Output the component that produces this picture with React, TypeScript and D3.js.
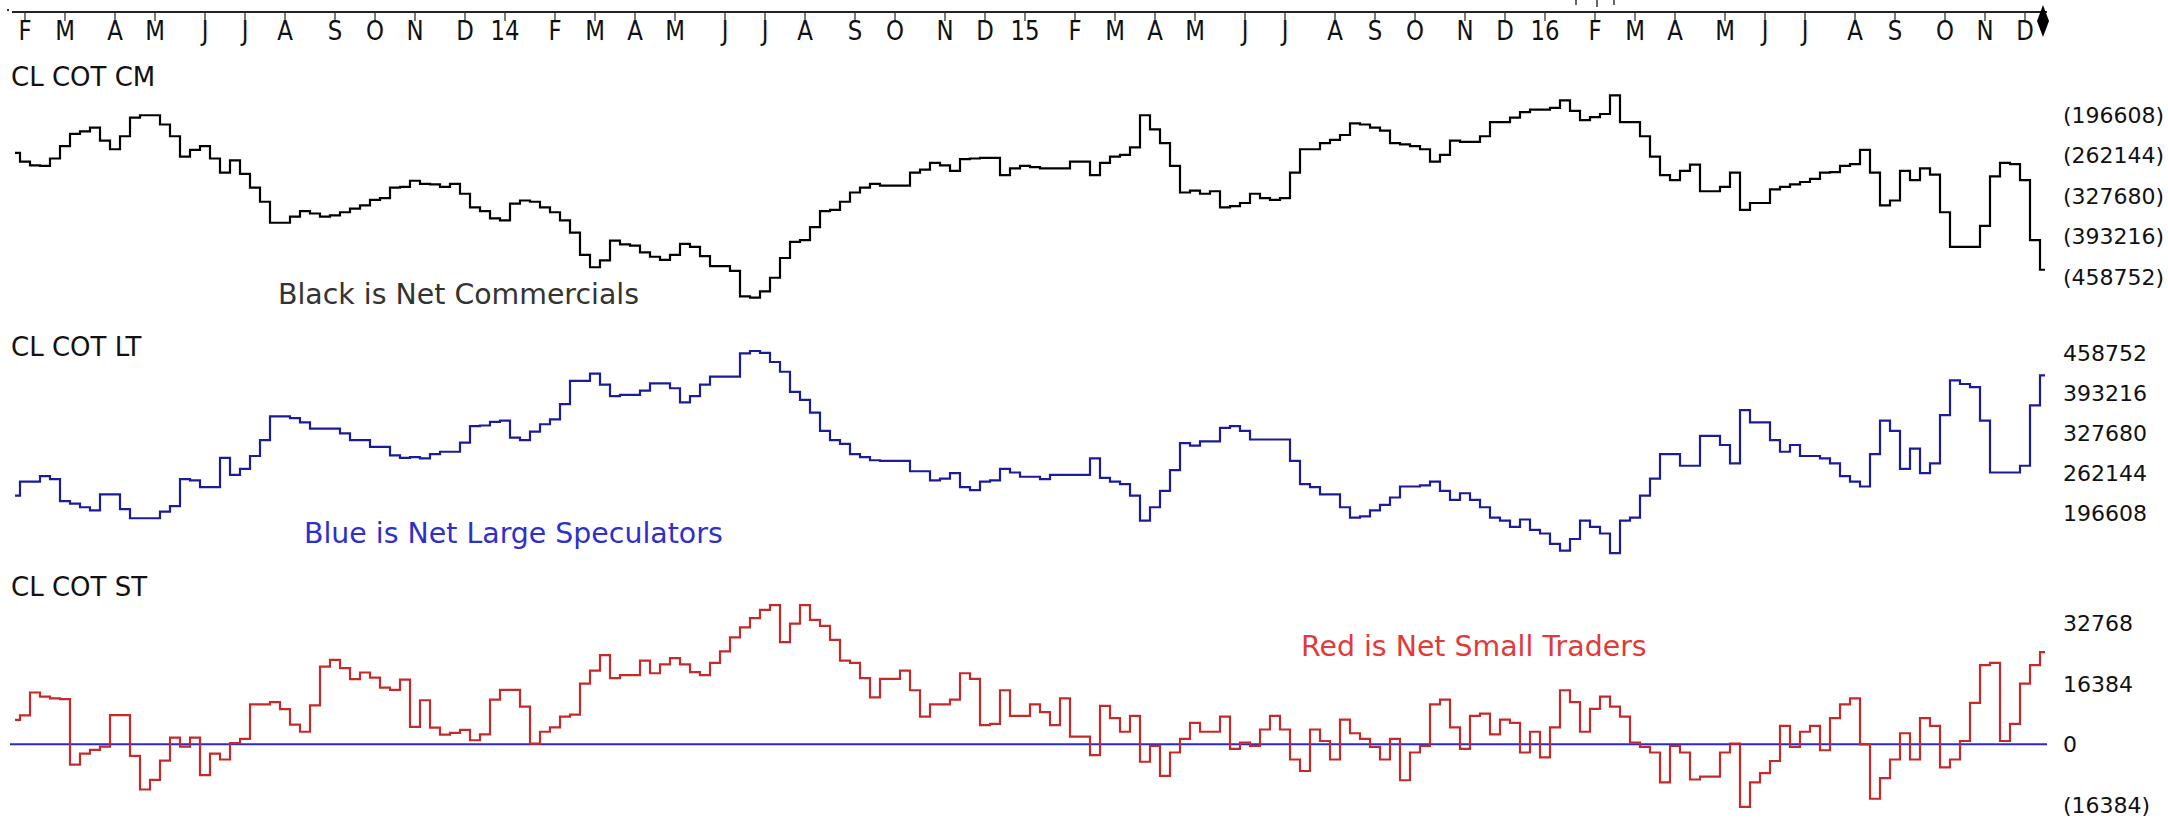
import React from "react";
import * as d3 from "d3";

const W = 2168;
const H = 819;

// weekly COT readings (thousands of contracts), first week = Fri 25 Jan 2013
const FIRST_WEEK = new Date(2013, 0, 25);

const commercialsK = [
  -258, -272, -278, -279, -267, -247, -227, -223, -217, -238, -252, -231, -201, -197, -197, -212, -231, -264, -253, -247,
  -267, -290, -270, -292, -314, -337, -371, -371, -361, -352, -356, -361, -359, -354, -348, -343, -334, -331, -314, -313,
  -303, -308, -309, -313, -308, -324, -346, -352, -364, -367, -340,
  -335, -337, -346, -354, -367, -387, -423, -443, -432, -400, -406, -408, -419, -426, -431, -423, -405, -410, -425, -441,
  -441, -449, -490, -492, -482, -460, -428, -402, -399, -378, -352, -350, -337, -322, -314, -308, -311, -311, -311, -290,
  -285, -274, -278, -287, -268, -267, -266, -266, -294, -283, -279,
  -281, -283, -283, -283, -272, -272, -294, -274, -264, -261, -249, -197, -220, -242, -279, -322, -319, -324, -320, -346,
  -344, -339, -324, -331, -334, -331, -290, -252, -252, -242, -237, -229, -210, -212, -217, -222, -242, -244, -247, -252,
  -272, -261, -238, -240, -240, -231, -208, -208, -201, -192, -188,
  -188, -185, -173, -190, -205, -200, -195, -165, -208, -208, -231, -264, -294, -302, -287, -277, -320, -320, -313, -290,
  -350, -339, -339, -317, -313, -309, -305, -300, -290, -289, -279, -276, -253, -290, -343, -335, -287, -302, -283, -293,
  -354, -410, -410, -410, -376, -296, -274, -276, -302, -399, -447,
];

const largeSpecsK = [
  225, 248, 248, 257, 252, 216, 212, 206, 201, 227, 227, 203, 188, 188, 188, 199, 208, 252, 250, 239,
  239, 287, 259, 269, 290, 316, 355, 355, 352, 345, 335, 335, 335, 327, 316, 316, 305, 305, 291, 287,
  288, 286, 293, 297, 297, 312, 339, 340, 346, 348, 320,
  316, 330, 342, 350, 375, 413, 413, 425, 407, 388, 390, 390, 397, 409, 409, 401, 378, 388, 407, 420,
  420, 420, 458, 462, 459, 444, 428, 395, 382, 361, 331, 316, 310, 293, 288, 283, 282, 282, 282, 265,
  265, 250, 253, 262, 239, 234, 248, 250, 269, 263, 256,
  256, 252, 259, 259, 259, 259, 286, 254, 248, 244, 225, 184, 206, 233, 267, 311, 307, 314, 314, 336,
  339, 331, 317, 317, 317, 317, 282, 244, 239, 227, 227, 206, 189, 191, 201, 210, 222, 240, 240, 242,
  248, 233, 218, 229, 218, 206, 189, 184, 174, 186, 169,
  163, 146, 135, 154, 184, 174, 163, 131, 184, 189, 225, 253, 293, 293, 274, 274, 323, 323, 308, 278,
  365, 345, 345, 316, 297, 308, 290, 290, 286, 278, 257, 248, 240, 293, 348, 331, 269, 302, 262, 278,
  357, 414, 408, 403, 348, 263, 263, 263, 274, 373, 422,
];

const smallTradersK = [
  6.6, 7.8, 14.0, 12.9, 12.4, 12.2, -5.5, -2.5, -1.5, -0.6, 7.9, 7.9, -3.1, -12.2, -9.6, -4.4, 1.8, -0.6, 1.8, -8.3,
  -2.5, -4.1, 0.3, 1.5, 10.8, 10.8, 11.4, 9.5, 5.3, 3.4, 10.5, 21.0, 22.8, 20.6, 17.6, 19.4, 18.0, 15.3, 14.7, 17.5,
  4.7, 11.9, 4.5, 2.6, 3.1, 3.9, 1.1, 2.7, 12.1, 14.7, 14.7,
  10.2, 0.2, 3.4, 4.6, 7.5, 8.0, 16.4, 19.9, 24.1, 17.9, 18.7, 18.7, 22.6, 19.2, 21.6, 23.3, 21.6, 19.5, 18.7, 22.0,
  25.1, 28.9, 31.6, 34.1, 36.3, 37.6, 27.6, 32.6, 37.6, 33.6, 32.0, 28.2, 22.6, 22.0, 17.9, 12.7, 17.7, 17.7, 19.9, 14.6,
  7.5, 10.8, 10.8, 12.1, 19.2, 17.7, 5.2, 5.5, 14.6, 7.7, 7.7,
  10.8, 8.7, 5.2, 12.4, 2.1, 2.1, -2.9, 10.4, 7.1, 3.4, 7.7, -4.7, -0.4, -8.5, -2.2, 1.5, 5.8, 3.4, 3.4, 7.5,
  -1.2, 0.5, -0.4, 4.0, 7.7, 4.0, -4.1, -7.2, 4.0, 0.9, -4.1, 6.7, 3.0, 1.5, -0.7, -4.1, 1.5, -9.7, -2.2, -0.4,
  10.8, 12.1, 4.6, -1.2, 7.7, 8.3, 2.7, 6.7, 5.8, -2.2, 3.4,
  -3.5, 4.6, 14.6, 11.4, 3.4, 9.6, 12.9, 10.2, 7.5, 0.5, -0.7, -2.2, -10.3, -0.4, -2.2, -9.5, -8.7, -8.7, -2.2, 0.2,
  -16.9, -10.3, -7.8, -4.5, 5.0, -0.7, 3.4, 5.0, -1.6, 7.1, 10.8, 12.4, 0.0, -14.7, -9.1, -4.1, 3.0, -4.1, 7.1, 5.0,
  -6.2, -4.1, 0.9, 11.2, 21.4, 22.0, 0.9, 5.5, 16.4, 21.4, 24.9,
];

const cmTicks = [-196608, -262144, -327680, -393216, -458752];
const ltTicks = [458752, 393216, 327680, 262144, 196608];
const stTicks = [32768, 16384, 0, -16384];
const monthInitials = ["J", "F", "M", "A", "M", "J", "J", "A", "S", "O", "N", "D"];
const panelTitles = ["CL COT CM", "CL COT LT", "CL COT ST"];
const notes = ["Black is Net Commercials", "Blue is Net Large Speculators", "Red is Net Small Traders"];

const FONT = "'DejaVu Sans', Verdana, sans-serif";

const weekDate = (i: number) => d3.timeDay.offset(FIRST_WEEK, 7 * i);
const fmt = (v: number) => (v < 0 ? `(${-v})` : `${v}`);

export default function App() {
  const n = commercialsK.length;
  const x = d3.scaleTime().domain([weekDate(0), weekDate(n - 1)]).range([15, 2045]);

  const yCM = d3.scaleLinear().domain([-196608, -458752]).range([115, 277]);
  const yLT = d3.scaleLinear().domain([458752, 196608]).range([353, 513]);
  const yST = d3.scaleLinear().domain([32768, -16384]).range([623, 805]);

  const mkLine = (y: d3.ScaleLinear<number, number>) =>
    d3
      .line<number>()
      .x((_, i) => x(weekDate(i)))
      .y((d) => y(d * 1000))
      .curve(d3.curveStep);

  const months: { date: Date; label: string }[] = [];
  for (let i = 1; i < n; i++) {
    const d = weekDate(i);
    const p = weekDate(i - 1);
    if (d.getMonth() !== p.getMonth()) {
      months.push({
        date: d,
        label: d.getMonth() === 0 ? String(d.getFullYear() % 100) : monthInitials[d.getMonth()],
      });
    }
  }

  const labelX = 2063;
  const axisFont = 22;

  return (
    <svg
      width={W}
      height={H}
      style={{ position: "absolute", left: 0, top: 0, background: "#fff" }}
      fontFamily={FONT}
    >
      <rect x={0} y={0} width={W} height={H} fill="#fff" />
      {/* time axis */}
      <rect x={7} y={9} width={2} height={2} fill="#333" />
      <line x1={12} x2={2047} y1={12} y2={12} stroke="#222" strokeWidth={2} />
      {/* clipped marks above the axis */}
      <g stroke="#333" strokeWidth={1.5}>
        <line x1={1576} x2={1576} y1={0} y2={5} />
        <line x1={1597} x2={1597} y1={0} y2={7} />
        <line x1={1614} x2={1614} y1={0} y2={5} />
      </g>
      {months.map((m, i) => (
        <g key={i}>
          <line x1={x(m.date)} x2={x(m.date)} y1={12} y2={21} stroke="#222" strokeWidth={1.2} />
          <text
            transform={`translate(${x(m.date)},40) scale(0.88,1)`}
            textAnchor="middle"
            fontSize={26}
            fill="#111"
          >
            {m.label}
          </text>
        </g>
      ))}
      <path d="M2043,5 L2049,21 L2043,37 L2037,21 Z" fill="#000" />

      {/* panel titles */}
      <text x={11} y={86} fontSize={26} fill="#111">{panelTitles[0]}</text>
      <text x={11} y={356} fontSize={26} fill="#111">{panelTitles[1]}</text>
      <text x={11} y={596} fontSize={26} fill="#111">{panelTitles[2]}</text>

      {/* right scales */}
      {cmTicks.map((t) => (
        <text key={"cm" + t} x={labelX} y={yCM(t)} dy="0.36em" fontSize={axisFont} fill="#111">{fmt(t)}</text>
      ))}
      {ltTicks.map((t) => (
        <text key={"lt" + t} x={labelX} y={yLT(t)} dy="0.36em" fontSize={axisFont} fill="#111">{fmt(t)}</text>
      ))}
      {stTicks.map((t) => (
        <text key={"st" + t} x={labelX} y={yST(t)} dy="0.36em" fontSize={axisFont} fill="#111">{fmt(t)}</text>
      ))}

      {/* zero line */}
      <line x1={10} x2={2047} y1={yST(0)} y2={yST(0)} stroke="#2a2ad0" strokeWidth={2} />

      {/* series */}
      <path d={mkLine(yCM)(commercialsK) || ""} fill="none" stroke="#000" strokeWidth={2.2} />
      <path d={mkLine(yLT)(largeSpecsK) || ""} fill="none" stroke="#1c1c96" strokeWidth={2.2} />
      <path d={mkLine(yST)(smallTradersK) || ""} fill="none" stroke="#c42a2a" strokeWidth={2.2} />

      {/* annotations */}
      <text x={278} y={304} fontSize={28.4} fill="#333">{notes[0]}</text>
      <text x={304} y={543} fontSize={28.4} fill="#3030c8">{notes[1]}</text>
      <text x={1301} y={656} fontSize={28.4} fill="#e03a3a">{notes[2]}</text>
    </svg>
  );
}
